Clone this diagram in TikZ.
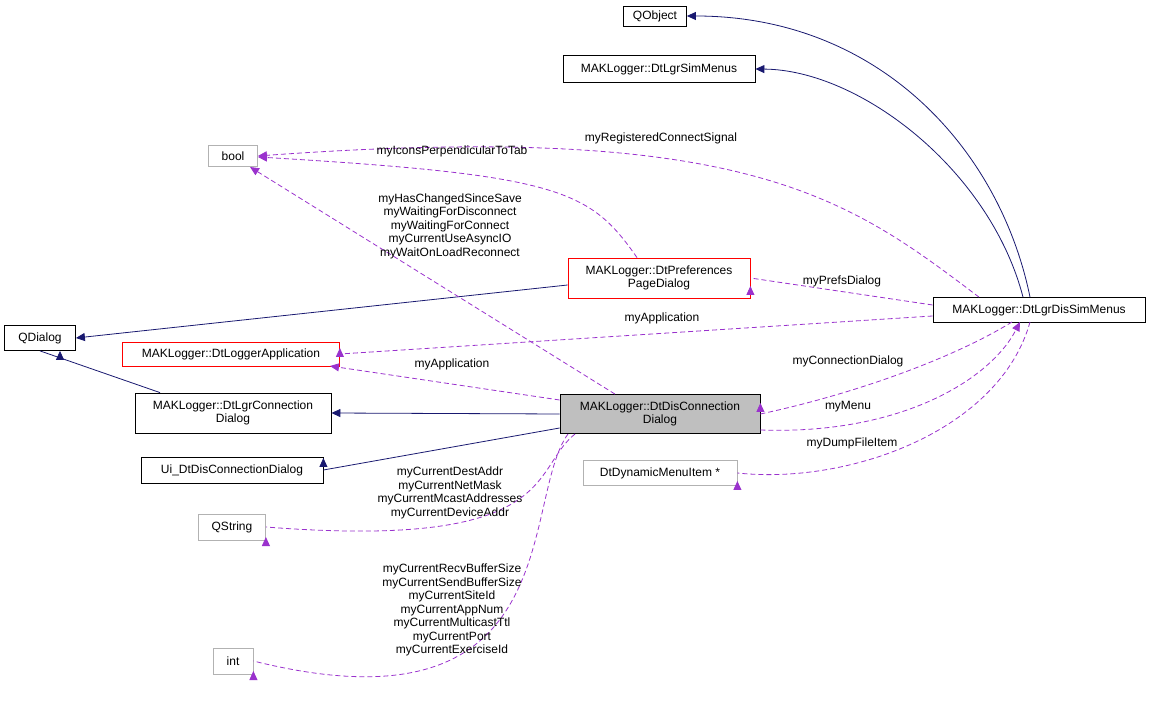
\documentclass[tikz,border=0pt]{standalone}
\usepackage{fontspec}
\setmainfont{Liberation Sans}
\usetikzlibrary{arrows.meta}
\definecolor{edgeblue}{RGB}{25,25,112}
\definecolor{dep}{RGB}{154,50,205}
\begin{document}
\begin{tikzpicture}[x=1pt,y=-1pt,
  every node/.style={font=\fontsize{12}{13.5}\selectfont},
  box/.style={draw=black,fill=white,inner sep=0pt,align=center,line width=0.8pt},
  gbox/.style={box,draw=gray!60},
  rbox/.style={box,draw=red},
  inh/.style={draw=edgeblue,line width=0.8pt,-{Triangle[length=9pt,width=8pt]}},
  use/.style={draw=dep,dashed,dash pattern=on 5pt off 3pt,line width=0.8pt,-{Triangle[length=9pt,width=8pt]}},
  lbl/.style={align=center,inner sep=1pt}]
\useasboundingbox (0,0) rectangle (1152,708);
\node[box,minimum width=63pt,minimum height=20pt] (qobj) at (655,16) {QObject};
\node[box,minimum width=192pt,minimum height=27pt] (sim) at (659,69) {MAKLogger::DtLgrSimMenus};
\node[gbox,minimum width=49pt,minimum height=21pt] (bool) at (233,156) {bool};
\node[rbox,minimum width=182pt,minimum height=40pt] (pref) at (659,278) {MAKLogger::DtPreferences\\PageDialog};
\node[box,minimum width=212pt,minimum height=25pt] (dis) at (1039,310) {MAKLogger::DtLgrDisSimMenus};
\node[box,minimum width=71pt,minimum height=25pt] (qd) at (40,338) {QDialog};
\node[rbox,minimum width=217pt,minimum height=24pt] (app) at (231,354) {MAKLogger::DtLoggerApplication};
\node[box,minimum width=196pt,minimum height=40pt] (lcd) at (233,413) {MAKLogger::DtLgrConnection\\Dialog};
\node[box,fill=gray!50,minimum width=200pt,minimum height=39pt] (dcd) at (660,414) {MAKLogger::DtDisConnection\\Dialog};
\node[box,minimum width=182pt,minimum height=26pt] (ui) at (232,470) {Ui\_DtDisConnectionDialog};
\node[gbox,minimum width=154pt,minimum height=25pt] (dmi) at (660,473) {DtDynamicMenuItem *};
\node[gbox,minimum width=67pt,minimum height=26pt] (qs) at (232,527) {QString};
\node[gbox,minimum width=40pt,minimum height=26pt] (int) at (233,661) {int};

\draw[inh] (dis.north) ++(-9,0) .. controls (1000,150) and (880,16) .. (qobj.east);
\draw[inh] (dis.north) ++(-16,0) .. controls (990,170) and (860,70) .. (sim.east);
\draw[inh] (pref.west) ++(0,7) -- (qd.east);
\draw[inh] (lcd.north) ++(-73,0) -- (qd.south) ++(20,0);
\draw[inh] (dcd.west) -- (lcd.east);
\draw[inh] (dcd.west) ++(0,14) -- (ui.east) ++(0,-12);

\draw[use] (dis.north) ++(-60,0) .. controls (850,200) and (750,120) .. (bool.east);
\node[lbl] at (661,138) {myRegisteredConnectSignal};
\draw[use] (pref.north) ++(-22,0) .. controls (590,190) and (560,175) .. (258,157);
\node[lbl] at (452,151) {myIconsPerpendicularToTab};
\draw[use] (dcd.north) ++(-45,0) -- (250,167);
\node[lbl,fill=white,inner sep=0pt,fill opacity=0,text opacity=1] at (450,226) {myHasChangedSinceSave\\myWaitingForDisconnect\\myWaitingForConnect\\myCurrentUseAsyncIO\\myWaitOnLoadReconnect};
\draw[use] (dis.west) ++(0,-5) -- (pref.east) ++(0,8);
\node[lbl] at (842,281) {myPrefsDialog};
\draw[use] (dis.west) ++(0,6) -- (app.east) ++(0,-6);
\node[lbl] at (662,318) {myApplication};
\draw[use] (dcd.west) ++(0,-14) -- (330,366);
\node[lbl] at (452,364) {myApplication};
\draw[use] (1012,322) .. controls (950,360) and (850,395) .. (dcd.east) ++(0,-11);
\node[lbl] at (848,361) {myConnectionDialog};
\draw[use] (dcd.east) ++(0,16) .. controls (900,435) and (990,380) .. (1020,322);
\node[lbl] at (848,407) {myMenu};
\draw[use] (1030,322) .. controls (1000,430) and (850,485) .. (dmi.east) ++(0,8);
\node[lbl] at (852,443) {myDumpFileItem};
\draw[use] (575,434) .. controls (530,470) and (560,550) .. (qs.east) ++(0,10);
\node[lbl] at (450,493) {myCurrentDestAddr\\myCurrentNetMask\\myCurrentMcastAddresses\\myCurrentDeviceAddr};
\draw[use] (568,434) .. controls (520,500) and (570,740) .. (int.east) ++(0,10);
\node[lbl] at (452,610) {myCurrentRecvBufferSize\\myCurrentSendBufferSize\\myCurrentSiteId\\myCurrentAppNum\\myCurrentMulticastTtl\\myCurrentPort\\myCurrentExerciseId};
\end{tikzpicture}
\end{document}
